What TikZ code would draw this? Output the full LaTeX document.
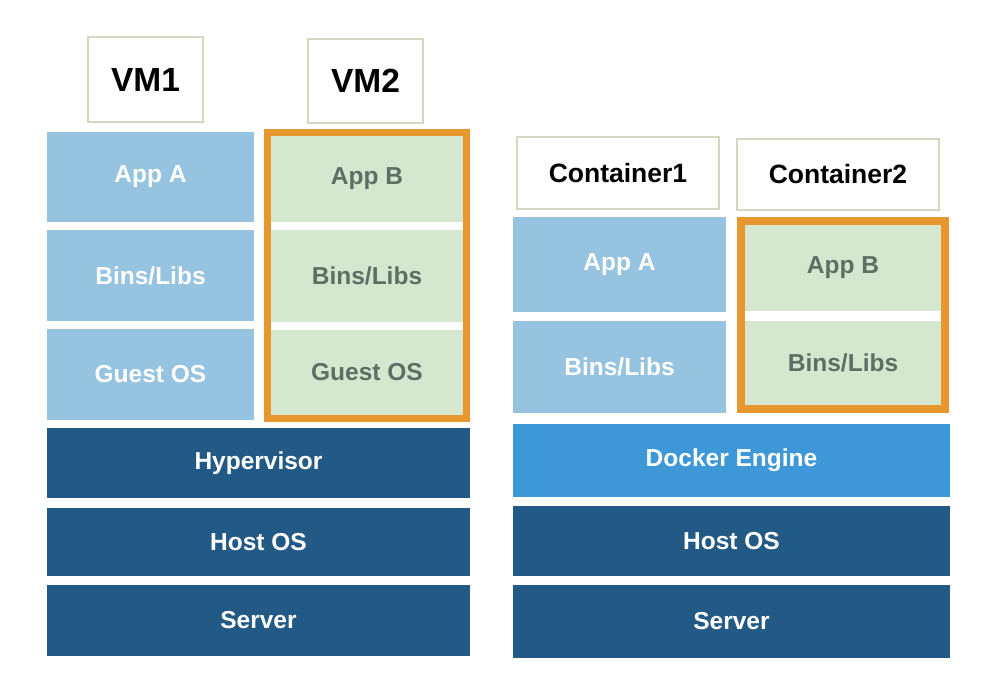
\documentclass[tikz,border=0pt]{standalone}
\usepackage{fontspec}
\setmainfont{Liberation Sans}
\usepackage{tikz}
\usetikzlibrary{calc}

\definecolor{appblue}{RGB}{149,195,224}
\definecolor{appgreen}{RGB}{213,232,207}
\definecolor{frameorange}{RGB}{232,150,46}
\definecolor{hostblue}{RGB}{35,90,133}
\definecolor{dockerblue}{RGB}{62,152,216}
\definecolor{greentext}{RGB}{95,110,100}
\definecolor{labelline}{RGB}{214,214,194}

\begin{document}
\begin{tikzpicture}[x=1pt,y=-1pt,
    cell/.style={inner sep=0pt,outer sep=0pt,font=\bfseries\fontsize{24.5}{24.5}\selectfont},
    bluecell/.style={cell,fill=appblue,text=white},
    greencell/.style={cell,fill=appgreen,text=greentext},
    hostcell/.style={cell,fill=hostblue,text=white},
    tag/.style={inner sep=0pt,outer sep=0pt,draw=labelline,line width=1.2pt,fill=white,text=black}]
            \useasboundingbox (0,0) rectangle (998,686);
            % virtual machines
            \node[tag,minimum width=115,minimum height=85,font=\bfseries\fontsize{33.5}{33.5}\selectfont] (vm1) at (145.5,79.5) {VM1};
            \node[tag,minimum width=115,minimum height=84,font=\bfseries\fontsize{33.5}{33.5}\selectfont] (vm2) at (365.5,81) {VM2};
            \node[bluecell,minimum width=207,minimum height=90] (appA) at (150.5,177) {App A};
            \node[bluecell,minimum width=207,minimum height=91] (binsA) at (150.5,275.5) {Bins/Libs};
            \node[bluecell,minimum width=207,minimum height=91] (guestA) at (150.5,374.5) {Guest OS};
            \node[greencell,minimum width=192,minimum height=86] (appB) at (367,179) {App B};
            \node[greencell,minimum width=192,minimum height=92] (binsB) at (367,276) {Bins/Libs};
            \node[greencell,minimum width=192,minimum height=85] (guestB) at (367,372.5) {Guest OS};
            \draw[frameorange,line width=7pt] (appB.north west) ++(-3.5,-3.5) rectangle ($(guestB.south east)+(3.5,3.5)$);
            \node[hostcell,minimum width=423,minimum height=70] (hyper) at (258.5,463) {Hypervisor};
            \node[hostcell,minimum width=423,minimum height=68] (hostL) at (258.5,542) {Host OS};
            \node[hostcell,minimum width=423,minimum height=71] (serverL) at (258.5,620.5) {Server};
            % containers
            \node[tag,minimum width=202,minimum height=72,font=\bfseries\fontsize{26.5}{26.5}\selectfont] (ct1) at (618,173) {Container1};
            \node[tag,minimum width=202,minimum height=71,font=\bfseries\fontsize{26.5}{26.5}\selectfont] (ct2) at (838,174.5) {Container2};
            \node[bluecell,minimum width=213,minimum height=95] (cappA) at (619.5,264.5) {App A};
            \node[bluecell,minimum width=213,minimum height=92] (cbinsA) at (619.5,367) {Bins/Libs};
            \node[greencell,minimum width=196,minimum height=86] (cappB) at (843,268) {App B};
            \node[greencell,minimum width=196,minimum height=84] (cbinsB) at (843,363) {Bins/Libs};
            \draw[frameorange,line width=8pt] (cappB.north west) ++(-4,-4) rectangle ($(cbinsB.south east)+(4,4)$);
            \node[cell,fill=dockerblue,text=white,minimum width=437,minimum height=73] (docker) at (731.5,460.5) {Docker Engine};
            \node[hostcell,minimum width=437,minimum height=70] (hostR) at (731.5,541) {Host OS};
            \node[hostcell,minimum width=437,minimum height=73] (serverR) at (731.5,621.5) {Server};
        \end{tikzpicture}
\end{document}
